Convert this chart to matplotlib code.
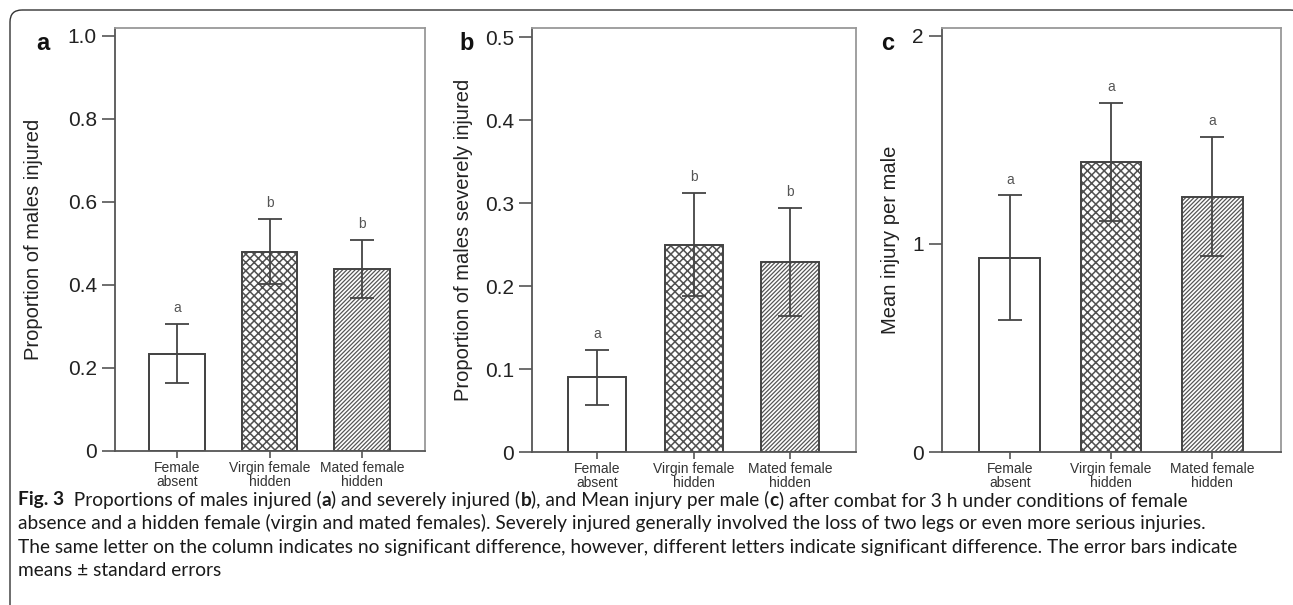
import matplotlib
matplotlib.use("Agg")
import matplotlib.pyplot as plt
from matplotlib.patches import FancyBboxPatch

# data
groups = ["Female\nabsent", "Virgin female\nhidden", "Mated female\nhidden"]
injured = [0.234, 0.480, 0.438]
injured_se = [0.071, 0.078, 0.070]
severe = [0.090, 0.250, 0.229]
severe_se = [0.033, 0.062, 0.065]
mean_injury = [0.933, 1.394, 1.226]
mean_injury_se = [0.300, 0.284, 0.286]
letters_a = ["a", "b", "b"]
letters_b = ["a", "b", "b"]
letters_c = ["a", "a", "a"]

yticks_a = [0, 0.2, 0.4, 0.6, 0.8, 1.0]
yticks_b = [0, 0.1, 0.2, 0.3, 0.4, 0.5]
yticks_c = [0, 1, 2]
yticklabels_a = ["0", "0.2", "0.4", "0.6", "0.8", "1.0"]
yticklabels_b = ["0", "0.1", "0.2", "0.3", "0.4", "0.5"]
yticklabels_c = ["0", "1", "2"]

caption = [
    [("Fig. 3", "bold"), ("  Proportions of males injured (", "normal"), ("a", "bold"),
     (") and severely injured (", "normal"), ("b", "bold"),
     ("), and Mean injury per male (", "normal"), ("c", "bold"),
     (") after combat for 3 h under conditions of female", "normal")],
    [("absence and a hidden female (virgin and mated females). Severely injured generally "
      "involved the loss of two legs or even more serious injuries.", "normal")],
    [("The same letter on the column indicates no significant difference, however, different "
      "letters indicate significant difference. The error bars indicate", "normal")],
    [("means \u00b1 standard errors", "normal")],
]

W, H = 1293, 605
plt.rcParams["font.family"] = ["Liberation Sans", "DejaVu Sans"]
fig = plt.figure(figsize=(W / 100, H / 100), dpi=100)

hatches = ["", "xxxx", "////////"]
hatch_lw = [1.0, 1.1, 0.9]
hatch_col = ["#444444", "#505050", "#555555"]
edge = "#444444"

panels = [
    ("a", injured, injured_se, letters_a, "Proportion of males injured", 1.019,
     yticks_a, yticklabels_a, (115, 28, 425, 451), 43, 43),
    ("b", severe, severe_se, letters_b, "Proportion of males severely injured", 0.511,
     yticks_b, yticklabels_b, (532, 28, 856, 452), 473, 467),
    ("c", mean_injury, mean_injury_se, letters_c, "Mean injury per male", 2.038,
     yticks_c, yticklabels_c, (942, 28, 1281, 452), 900, 888),
]

for tag, vals, errs, lets, ylab, ytop, yt, ytl, box, labx, tagx in panels:
    x0, y0, x1, y1 = box
    ax = fig.add_axes([x0 / W, 1 - y1 / H, (x1 - x0) / W, (y1 - y0) / H])
    for i, v in enumerate(vals):
        plt.rcParams["hatch.linewidth"] = hatch_lw[i]
        b = ax.bar(i, v, width=0.6, color="white", edgecolor=hatch_col[i],
                   linewidth=1.3, hatch=hatches[i], zorder=2)[0]
        if hasattr(b, "set_hatch_linewidth"):
            b.set_hatch_linewidth(hatch_lw[i])
        # outline drawn separately so the frame stays the same grey
        ax.bar(i, v, width=0.6, fill=False, edgecolor=edge, linewidth=1.3, zorder=2.5)
    xs = range(len(vals))
    ax.errorbar(xs, vals, yerr=errs, fmt="none", ecolor=edge, elinewidth=1.3,
                capsize=8.3, capthick=1.3, zorder=3)
    for x, v, e, l in zip(xs, vals, errs, lets):
        ax.annotate(l, (x, v + e), xytext=(0, 11.5), textcoords="offset points",
                    ha="center", va="center", fontsize=10, color="#555555")
    ax.set_xlim(-0.67, 2.68)
    ax.set_ylim(0, ytop)
    ax.set_yticks(yt)
    ax.set_yticklabels(ytl, fontsize=15, color="#222222")
    ax.set_xticks(list(xs))
    ax.set_xticklabels(groups, fontsize=10, color="#333333", linespacing=0.95)
    ax.tick_params(axis="y", length=9.4, width=1.2, color="#555555", pad=3.6)
    ax.tick_params(axis="x", length=5, width=1.2, color="#555555", pad=2.5)
    for s in ["left", "bottom"]:
        ax.spines[s].set_color("#555555")
        ax.spines[s].set_linewidth(1.3)
    for s in ["top", "right"]:
        ax.spines[s].set_color("#999999")
        ax.spines[s].set_linewidth(1.3)
    ax.set_ylabel(ylab, fontsize=14.5, color="#222222")
    ax.yaxis.set_label_coords((labx - x0) / (x1 - x0), 0.5)
    fig.text(tagx / W, 1 - 43 / H, tag, fontsize=17, fontweight="bold",
             ha="center", va="center", color="#111111")

# overlay in pixel units for the frame and the caption
ov = fig.add_axes([0, 0, 1, 1], zorder=-1)
ov.set_xlim(0, W)
ov.set_ylim(H, 0)
ov.axis("off")
ov.add_patch(FancyBboxPatch((10, 10), 1292, 700, boxstyle="round,pad=0,rounding_size=12",
                            fill=False, edgecolor="#333333", linewidth=1.0))

renderer = fig.canvas.get_renderer()
cap_font = ["Lato", "DejaVu Sans"]
cap_size = 13.8
line_y = [500, 523, 547, 570]
for row, y in zip(caption, line_y):
    x = 18
    for txt, wt in row:
        t = ov.text(x, y, txt, fontsize=cap_size, fontweight=wt, family=cap_font,
                    ha="left", va="center", color="#1a1a1a")
        x += t.get_window_extent(renderer).width

fig.savefig("out.png", dpi=100)
